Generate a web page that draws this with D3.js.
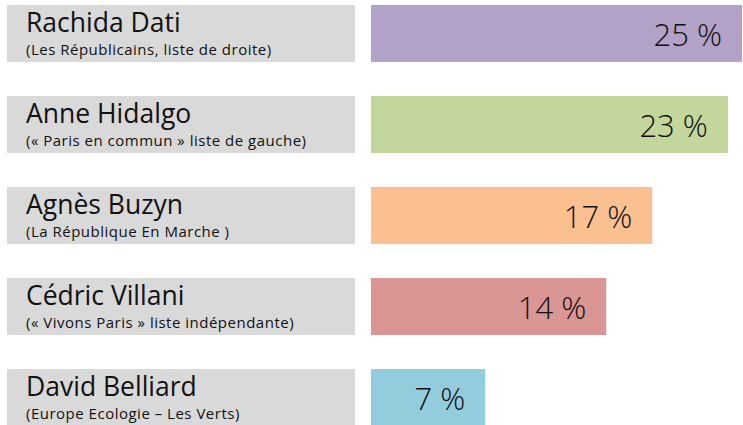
<!DOCTYPE html>
<html>
<head>
<meta charset="utf-8">
<script src="https://cdn.jsdelivr.net/npm/d3@7"></script>
<style>
  body { margin: 0; background: #ffffff; }
  svg { display: block; font-family: "Open Sans", "Noto Sans", sans-serif; }
</style>
</head>
<body>
<div id="chart"></div>
<script>
// candidates, their lists and the scores shown on the bars
var names = ["Rachida Dati", "Anne Hidalgo", "Agnès Buzyn", "Cédric Villani", "David Belliard"];
var lists = [
  "(Les Républicains, liste de droite)",
  "(« Paris en commun » liste de gauche)",
  "(La République En Marche )",
  "(«  Vivons Paris » liste indépendante)",
  "(Europe Ecologie – Les Verts)"
];
var scores = [25, 23, 17, 14, 7];
// bar lengths as drawn in the original (not exactly proportional to the labels)
var barValues = [25, 24.05, 18.95, 15.85, 7.7];
var colors = ["#b3a2c7", "#c3d69b", "#fac090", "#d99694", "#93cddd"];

var width = 743, height = 425;

var svg = d3.select("#chart").append("svg")
  .attr("width", width).attr("height", height);

var y = d3.scaleBand().domain(d3.range(names.length))
  .range([5, 5 + 4 * 91 + 57]).paddingInner(34 / 91).paddingOuter(0);

var x = d3.scaleLinear().domain([0, 25]).range([371, 742]);

var rows = svg.selectAll("g.row").data(names).enter().append("g")
  .attr("class", "row")
  .attr("transform", function(d, i){ return "translate(0," + y(i) + ")"; });

// grey label box
rows.append("rect")
  .attr("x", 7).attr("y", 0)
  .attr("width", 348).attr("height", y.bandwidth())
  .attr("fill", "#d9d9d9");

rows.append("text")
  .attr("x", 26).attr("y", 27)
  .attr("font-size", "26.5px").attr("fill", "#111")
  .text(function(d){ return d; });

rows.append("text")
  .attr("x", 26).attr("y", 50)
  .attr("font-size", "15px").attr("letter-spacing", "0.5px").attr("fill", "#111")
  .text(function(d, i){ return lists[i]; });

// score bars
rows.append("rect")
  .attr("x", x(0)).attr("y", 0)
  .attr("width", function(d, i){ return x(barValues[i]) - x(0); })
  .attr("height", y.bandwidth())
  .attr("fill", function(d, i){ return colors[i]; });

rows.append("text")
  .attr("x", function(d, i){ return x(barValues[i]) - 20; })
  .attr("y", 41)
  .attr("text-anchor", "end")
  .attr("font-size", "31px").attr("font-weight", 300).attr("fill", "#111")
  .text(function(d, i){ return scores[i] + " %"; });
</script>
</body>
</html>
